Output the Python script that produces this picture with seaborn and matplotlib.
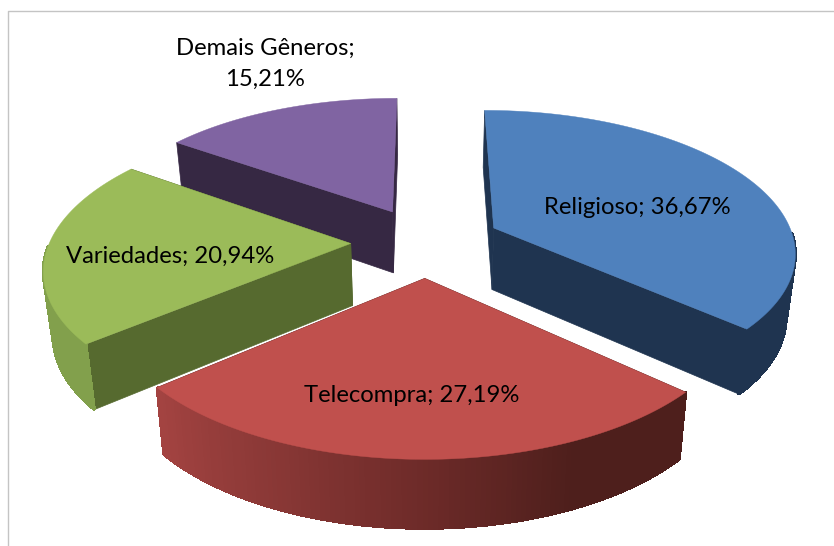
import numpy as np
import seaborn as sns
import matplotlib.pyplot as plt

# -------------------- data -------------------- #
categories = ["Religioso", "Telecompra", "Variedades", "Demais Gêneros"]
shares = [36.67, 27.19, 20.94, 15.21]
labels = ["Religioso; 36,67%", "Telecompra; 27,19%", "Variedades; 20,94%", "Demais Gêneros;\n15,21%"]

# -------------------- style -------------------- #
top_colors = ["#4F81BD", "#C0504D", "#9BBB59", "#8064A2"]
cut_colors = ["#1F3450", "#4F1F1D", "#566A2F", "#362843"]
wall_colors = [["#1F3450", "#1F3450"], ["#A34341", "#8A3836", "#6E2B29", "#4E1F1C", "#4E1F1C"],
               ["#82A04C", "#82A04C"], ["#362843", "#362843"]]
label_pos = [(637, 208), (412, 396), (170, 256), (265, 64)]

# projection of the pie plane on to the picture
CX, CY = 426, 242
A, B = 301, 140
PERSP = 0.156
EXPLODE = 0.25
DEPTH = 62
DEPTH_PERSP = 0.08
BOTTOM_SHRINK = 0.975  # vertical edges converge downwards


def project(px, py, drop=False):
    s = 1 + PERSP * py
    x = CX + A * px / s
    y = CY - B * py / s
    if drop:
        x = CX + (x - CX) * BOTTOM_SHRINK
        y = y + DEPTH / (1 + DEPTH_PERSP * py)
    return x, y


def wedge_points(start, end, n=120):
    mid = (start + end) / 2
    ox, oy = EXPLODE * np.sin(mid), EXPLODE * np.cos(mid)
    t = np.linspace(start, end, n)
    return ox, oy, ox + np.sin(t), oy + np.cos(t)


sns.set_theme(style="white")
plt.rcParams["font.family"] = ["Lato", "DejaVu Sans"]

fig, ax = plt.subplots(figsize=(8.34, 5.46), dpi=100)
ax.set_position([0, 0, 1, 1])
ax.set_xlim(0, 834)
ax.set_ylim(546, 0)
ax.axis("off")

# chart frame, only left and top edges are inside the crop
ax.plot([8.5, 8.5, 834], [546, 10.5, 10.5], color="#C4C4C4", lw=1)

edges = np.cumsum([0] + shares) / sum(shares) * 2 * np.pi
spans = list(zip(edges[:-1], edges[1:]))

# back slices first, front slice last
for i in [3, 2, 0, 1]:
    start, end = spans[i]
    ox, oy, px, py = wedge_points(start, end)

    # flat cut faces
    for k in (0, -1):
        xs = np.array([ox, px[k]])
        ys = np.array([oy, py[k]])
        tx, ty = project(xs, ys)
        bx, by = project(xs, ys, drop=True)
        ax.fill(np.r_[tx, bx[::-1]], np.r_[ty, by[::-1]], color=cut_colors[i], lw=0.5)

    # outer wall, in small strips so the shading can change along the rim
    ramp = sns.blend_palette(wall_colors[i], n_colors=len(px) - 1)
    tx, ty = project(px, py)
    bx, by = project(px, py, drop=True)
    for j in range(len(px) - 1):
        # the back of the rim is hidden by the top face
        if py[j] - oy > -0.02:
            continue
        color = ramp[len(px) - 2 - j] if i == 1 else ramp[j]
        ax.fill([tx[j], tx[j + 1], bx[j + 1], bx[j]], [ty[j], ty[j + 1], by[j + 1], by[j]],
                color=color, lw=1.5, antialiased=False)

    # top face
    ax0, ay0 = project(ox, oy)
    ax.fill(np.r_[ax0, tx], np.r_[ay0, ty], color=top_colors[i], lw=0.3)

for text, (x, y) in zip(labels, label_pos):
    ax.text(x, y, text, ha="center", va="center", fontsize=17.2, color="black", linespacing=1.6)

plt.savefig("out.png", dpi=100)
